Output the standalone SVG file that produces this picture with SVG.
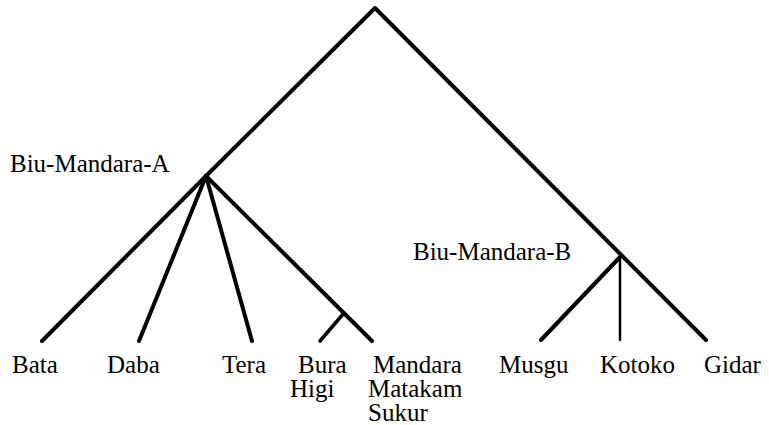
<svg xmlns="http://www.w3.org/2000/svg" width="769" height="425" viewBox="0 0 769 425">
<rect width="769" height="425" fill="#fff"/>
<text id="biu-mandara-a" x="10" y="172" font-family="Liberation Serif" font-size="25">Biu-Mandara-A</text>
<text id="biu-mandara-b" x="413" y="260" font-family="Liberation Serif" font-size="25">Biu-Mandara-B</text>
<text id="bata" x="12" y="373" font-family="Liberation Serif" font-size="25">Bata</text>
<text id="daba" x="107" y="373" font-family="Liberation Serif" font-size="25">Daba</text>
<text id="tera" x="222" y="373" font-family="Liberation Serif" font-size="25">Tera</text>
<text id="bura-higi" font-family="Liberation Serif" font-size="25"><tspan x="298" y="373">Bura</tspan><tspan x="290" y="397">Higi</tspan></text>
<text id="mandara" font-family="Liberation Serif" font-size="25"><tspan x="373" y="373">Mandara</tspan><tspan x="368" y="397">Matakam</tspan><tspan x="368" y="421">Sukur</tspan></text>
<text id="musgu" x="499" y="373" font-family="Liberation Serif" font-size="25">Musgu</text>
<text id="kotoko" x="600" y="373" font-family="Liberation Serif" font-size="25">Kotoko</text>
<text id="gidar" x="704" y="373" font-family="Liberation Serif" font-size="25">Gidar</text>
<g id="connectors" stroke="#000" stroke-width="4" fill="none" stroke-linecap="round" stroke-linejoin="round">
<path d="M206,176 L375,8 L706,340"/>
<path d="M206,176 L42,341"/>
<path d="M206,176 L139,341"/>
<path d="M206,176 L252,341"/>
<path d="M206,176 L372,341"/>
<path d="M344,313 L320,341" stroke-width="3.5"/>
<path d="M620,257 L541,340"/>
<path d="M620,257 L620,340" stroke-width="2.5"/>
</g>
</svg>
